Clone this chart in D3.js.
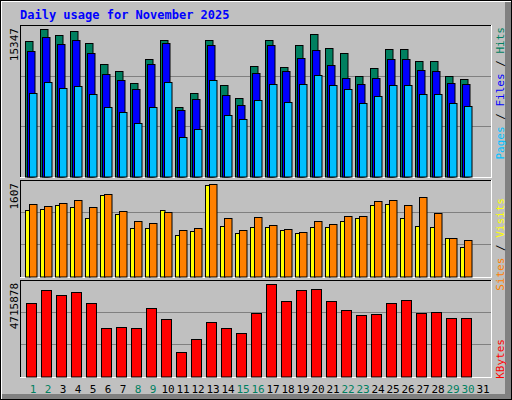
<!DOCTYPE html>
<html><head><meta charset="utf-8">
<script src="https://cdn.jsdelivr.net/npm/d3@7"></script>
<style>body{margin:0;background:#fff}</style></head>
<body><svg id="c" width="512" height="400"></svg>
<script>
const days = d3.range(1, 32);
const weekend = [1,2,8,9,15,16,22,23,29,30];
const hits  = [14097,15347,14722,15139,13889,11701,10972,9722,12222,14201,7222,8680,14201,9514,8160,11493,14201,11389,13680,14826,13368,12847,10451,11285,13264,13264,12014,12014,10451,10139];
const files = [13055,14514,13784,14201,12847,10660,10035,9097,11701,13889,6910,8055,13680,8472,7430,10764,13680,10972,12326,13160,11597,10243,9618,10243,12222,12222,11076,10972,9722,9618];
const pages = [8680,9826,9201,9410,8576,7222,6701,5556,7222,9826,4097,4930,10035,6389,5972,7951,9618,7743,9618,10555,9514,9097,7639,8368,9514,9514,8576,8576,7639,7326];
const sites = [1151,1169,1239,1204,1011,1414,1081,853,853,1151,730,801,1590,888,766,871,871,818,766,871,871,976,1011,1239,1256,1011,888,871,678,520];
const visits= [1256,1221,1274,1327,1204,1432,1134,976,941,1116,818,853,1607,1011,818,1029,906,836,783,976,923,1046,1046,1309,1327,1239,1379,1099,678,643];
const kbytes= [3735000,4406000,4148000,4303000,3735000,2496000,2547000,2496000,3528000,2960000,1256000,1928000,2805000,2496000,2237000,3270000,4715878,3838000,4406000,4458000,3838000,3425000,3167000,3218000,3735000,3890000,3270000,3322000,3012000,3012000];
const maxLabels = ["15347","1607","4715878"];

const svg = d3.select("#c");
const font = "DejaVu Sans Mono, monospace";
svg.append("rect").attr("x",0).attr("y",0).attr("width",512).attr("height",400).attr("fill","#000");
svg.append("rect").attr("x",1).attr("y",1).attr("width",510).attr("height",398).attr("fill","#fff");
svg.append("rect").attr("x",2).attr("y",2).attr("width",509).attr("height",397).attr("fill","#808080");
svg.append("rect").attr("x",2).attr("y",2).attr("width",503).attr("height",392).attr("fill","#C0C0C0");

svg.append("text").attr("x",20).attr("y",19).attr("fill","#0000FF").attr("font-family",font)
  .attr("font-weight","bold").attr("font-size",12).text("Daily usage for November 2025");

const x = d3.scaleBand().domain(days).range([25, 25+31*15]).paddingInner(0);
const panels = [
  {top:25, bot:177, max:15347, maxY:29.3},
  {top:180, bot:277, max:1607, maxY:184.3},
  {top:280, bot:377, max:4715878, maxY:284.3}
];
panels.forEach((p,i)=>{
  p.base = p.bot - 0.5;
  p.y = d3.scaleLinear().domain([0,p.max]).range([p.base, p.maxY]);
  svg.append("rect").attr("x",20).attr("y",p.top).attr("width",471).attr("height",p.bot-p.top).attr("fill","#C0C0C0");
  svg.append("line").attr("x1",20).attr("x2",491).attr("y1",p.top+0.5).attr("y2",p.top+0.5).attr("stroke","#000");
  svg.append("line").attr("x1",20.5).attr("x2",20.5).attr("y1",p.top).attr("y2",p.bot).attr("stroke","#000");
  svg.append("line").attr("x1",20).attr("x2",491).attr("y1",p.bot+0.5).attr("y2",p.bot+0.5).attr("stroke","#fff");
  svg.append("line").attr("x1",491.5).attr("x2",491.5).attr("y1",p.top).attr("y2",p.bot+1).attr("stroke","#fff");
  const gy = (p.base - p.top);
  [1/3,2/3].forEach(f=>{
    const yy = Math.round(p.base - gy*f)+0.5;
    svg.append("line").attr("x1",21).attr("x2",491).attr("y1",yy).attr("y2",yy).attr("stroke","#808080");
  });
  svg.append("text").attr("transform",`translate(18,${p.top+3}) rotate(-90)`).attr("text-anchor","end")
    .attr("font-family",font).attr("font-size",11).attr("fill","#000").text(maxLabels[i]);
});

function bars(panel, data, off, w, color){
  const p = panels[panel];
  svg.append("g").selectAll("rect").data(data).join("rect")
    .attr("x",(d,i)=>x(days[i])+off+0.5).attr("width",w)
    .attr("y",d=>Math.round(p.y(d))+0.5).attr("height",d=>p.base-Math.round(p.y(d)))
    .attr("fill",color).attr("stroke","#000").attr("stroke-width",1);
}
bars(0,hits,0,7.5,"#008060");
bars(0,files,2,7.5,"#0000FF");
bars(0,pages,4,7.5,"#00C0FF");
bars(1,sites,0,4.5,"#FFFF00");
bars(1,visits,4,7.5,"#FF8000");
bars(2,kbytes,1,10,"#FF0000");

svg.append("g").selectAll("text").data(days).join("text")
  .attr("x",d=>x(d)+8).attr("y",393).attr("text-anchor","middle")
  .attr("font-family",font).attr("font-size",11)
  .attr("fill",d=>weekend.includes(d)?"#008060":"#000").text(d=>d);

function rlabel(y, parts){
  const t = svg.append("text").attr("transform",`translate(504,${y}) rotate(-90)`).attr("text-anchor","end")
    .attr("font-family",font).attr("font-size",11);
  parts.forEach(([s,c])=>t.append("tspan").attr("fill",c).text(s));
}
rlabel(27,[["Pages","#00C0FF"],[" / ","#000"],["Files","#0000FF"],[" / ","#000"],["Hits","#008060"]]);
rlabel(198,[["Sites","#FF8000"],[" / ","#000"],["Visits","#FFFF00"]]);
rlabel(339,[["KBytes","#FF0000"]]);
</script></body></html>
